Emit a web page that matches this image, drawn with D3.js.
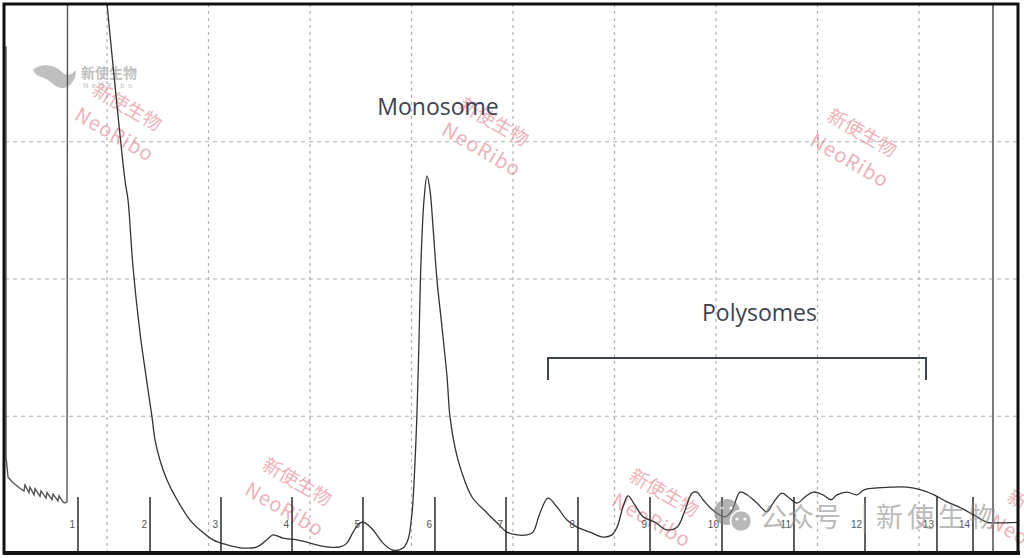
<!DOCTYPE html>
<html><head><meta charset="utf-8">
<script src="https://cdn.jsdelivr.net/npm/d3@7"></script>
<style>html,body{margin:0;padding:0;background:#fff;overflow:hidden}</style>
</head><body><svg id="c" width="1024" height="558"></svg>
<script>
// ---------------- data ----------------
const gridX = [10, 20, 30, 40, 50, 60, 70, 80, 90];
const gridY = [0.25, 0.5, 0.75];
const fractionEdges = [7.19, 14.29, 21.28, 28.28, 35.27, 42.36, 49.36, 56.45, 63.55, 70.64, 77.73, 84.73, 91.82, 95.37];
const fractionLabels = ["1","2","3","4","5","6","7","8","9","10","11","12","13","14"];
const fractionMarkTop = 0.102;
const runEndX = 97.34;
// sample loading segment (before gradient)
const traceLoadX = [0.10, 0.10, 0.30, 0.79, 1.48, 1.87, 1.97, 2.36, 2.46, 2.86, 2.96, 3.45, 3.55, 4.04, 4.14, 4.63, 4.73, 5.22, 5.32, 5.71, 5.91, 6.11, 6.16];
const traceLoadY = [0.923, 0.175, 0.138, 0.128, 0.118, 0.113, 0.124, 0.110, 0.120, 0.106, 0.117, 0.103, 0.113, 0.100, 0.110, 0.097, 0.107, 0.095, 0.104, 0.093, 0.091, 0.093, 1.04];
// gradient absorbance profile
const traceGradX = [9.95,10.05,11.82,12.12,12.61,13.30,13.99,14.48,14.78,15.27,
  15.96,16.95,18.23,19.21,20.49,21.87,23.45,24.83,25.81,26.40,
  27.39,28.77,30.05,31.72,33.00,33.69,34.29,34.98,35.47,36.26,
  37.24,38.23,39.21,39.70,40.10,40.39,40.59,40.79,40.99,41.28,
  41.58,41.87,42.17,42.56,43.05,43.55,43.84,44.33,45.02,46.01,
  47.49,48.47,49.46,50.44,51.43,52.02,52.71,53.50,54.38,55.37,
  56.35,57.64,58.92,59.80,60.30,60.89,61.38,62.07,62.86,64.04,
  65.22,66.21,67.00,67.68,68.18,68.77,69.75,70.94,71.63,72.41,
  73.10,74.09,75.07,75.67,76.55,77.14,78.03,78.82,79.61,80.59,
  81.38,81.97,82.96,83.94,84.63,85.62,87.29,88.87,90.25,91.53,
  92.81,94.19,95.47,96.75,97.34,99.90];
const traceGradY = [1.02,1.0,0.679,0.643,0.521,0.401,0.310,0.248,0.206,0.169,
  0.133,0.097,0.060,0.042,0.024,0.015,0.009,0.011,0.024,0.033,
  0.027,0.024,0.018,0.011,0.011,0.018,0.038,0.055,0.055,0.042,
  0.018,0.005,0.009,0.024,0.073,0.164,0.255,0.388,0.534,0.643,
  0.687,0.661,0.594,0.497,0.412,0.321,0.248,0.193,0.146,0.102,
  0.073,0.055,0.038,0.033,0.033,0.038,0.073,0.100,0.084,0.060,
  0.047,0.038,0.029,0.033,0.047,0.084,0.104,0.087,0.066,0.056,
  0.042,0.047,0.078,0.109,0.111,0.097,0.078,0.066,0.078,0.111,
  0.106,0.091,0.075,0.091,0.109,0.102,0.091,0.102,0.111,0.106,
  0.097,0.106,0.111,0.106,0.115,0.118,0.120,0.120,0.115,0.106,
  0.093,0.082,0.069,0.056,0.055,0.056];
const annotationText = ["Monosome", "Polysomes"];
const annotationX = [42.66, 74.33];
const annotationY = [0.798, 0.423];
const polysomeRange = [53.5, 90.74];
const bracketY = [0.355, 0.315];
const watermarkCN = "新使生物";
const watermarkEN = "NeoRibo";
const footerText = ["公众号", "|", "新使生物"];

// ---------------- layout ----------------
const W = 1024, H = 558;
const L = 5, R = 1020, T = 4, B = 553;
const svg = d3.select("#c");
svg.append("rect").attr("width", W).attr("height", H).attr("fill", "#fff");

const x = d3.scaleLinear().domain([0, 100]).range([L, R]);
const y = d3.scaleLinear().domain([0, 1]).range([B, T]);

svg.append("defs").append("clipPath").attr("id", "plot")
  .append("rect").attr("x", L - 1).attr("y", T).attr("width", R - L).attr("height", B - T);

// grid
const gx = svg.append("g").attr("transform", `translate(0,${B})`)
  .call(d3.axisBottom(x).tickValues(gridX).tickSize(-(B - T)).tickFormat(""));
gx.select(".domain").remove();
gx.selectAll("line").attr("stroke", "#b0b0b0").attr("stroke-width", 1.2).attr("stroke-dasharray", "3,4");
const gy = svg.append("g").attr("transform", `translate(${L},0)`)
  .call(d3.axisLeft(y).tickValues(gridY).tickSize(-(R - L)).tickFormat(""));
gy.select(".domain").remove();
gy.selectAll("line").attr("stroke", "#b0b0b0").attr("stroke-width", 1.2).attr("stroke-dasharray", "4,4");

// watermark layer (pink)
const wmPos = [[127,107],[494,122],[862,133],[297,482],[664,493],[1042,514]];
wmPos.forEach(p => {
  const g = svg.append("g").attr("transform", `translate(${p[0]},${p[1]}) rotate(30)`)
    .attr("fill", "#e27f8d").attr("opacity", 0.6)
    .style("font-family", "'Noto Sans CJK SC', 'Noto Sans', sans-serif");
  g.append("text").attr("text-anchor", "middle").attr("dy", "0.35em")
    .attr("font-size", 19).text(watermarkCN);
  g.append("text").attr("text-anchor", "middle").attr("x", 3).attr("y", 30).attr("dy", "0.35em")
    .attr("font-size", 20).attr("letter-spacing", 1).text(watermarkEN);
});

// top-left gray logo
const logo = svg.append("g").attr("fill", "#b5b5b5").attr("opacity", 0.85);
logo.append("path").attr("d", "M33,70 C40,63 54,64 62,72 C66,76 70,76 76,70 C76,78 72,86 64,88 C56,89 52,82 46,79 C41,76 36,77 33,70 Z");
logo.append("text").attr("x", 81).attr("y", 78).attr("font-size", 14).attr("font-weight", "bold")
  .style("font-family", "'Noto Sans CJK SC', sans-serif").text(watermarkCN);
logo.append("text").attr("x", 83).attr("y", 88).attr("font-size", 7).attr("letter-spacing", 3.5)
  .style("font-family", "'Noto Sans', sans-serif").text(watermarkEN);

// trace
const plot = svg.append("g").attr("clip-path", "url(#plot)");
const lineLin = d3.line().x(d => x(d[0])).y(d => y(d[1]));
const lineSmooth = d3.line().x(d => x(d[0])).y(d => y(d[1])).curve(d3.curveCatmullRom.alpha(0.5));
plot.append("path").datum(d3.zip(traceLoadX, traceLoadY))
  .attr("d", lineLin).attr("fill", "none").attr("stroke", "#555").attr("stroke-width", 1.4);
plot.append("path").datum(d3.zip(traceGradX, traceGradY))
  .attr("d", lineSmooth).attr("fill", "none").attr("stroke", "#333").attr("stroke-width", 1.3);

// run end marker
svg.append("line").attr("x1", x(runEndX)).attr("x2", x(runEndX)).attr("y1", y(1)).attr("y2", y(0))
  .attr("stroke", "#7a7a7a").attr("stroke-width", 2);

// fraction markers
const fr = svg.append("g");
fr.selectAll("line").data(fractionEdges).join("line")
  .attr("x1", d => x(d)).attr("x2", d => x(d)).attr("y1", y(fractionMarkTop)).attr("y2", y(0))
  .attr("stroke", "#2a2a2a").attr("stroke-width", 1.5);
fr.selectAll("text").data(fractionEdges).join("text")
  .attr("x", d => x(d) - 3).attr("y", y(0.046)).attr("text-anchor", "end")
  .attr("font-size", 10).attr("fill", "#555")
  .style("font-family", "'Liberation Sans', Arial, sans-serif")
  .text((d, i) => fractionLabels[i]);

// annotations
svg.selectAll("text.ann").data(annotationText).join("text").attr("class", "ann")
  .attr("x", (d, i) => x(annotationX[i])).attr("y", (d, i) => y(annotationY[i]))
  .attr("text-anchor", "middle").attr("font-size", 23).attr("fill", "#3d4350")
  .style("font-family", "'Open Sans', sans-serif").text(d => d);
const br = d3.path();
br.moveTo(x(polysomeRange[0]), y(bracketY[1]));
br.lineTo(x(polysomeRange[0]), y(bracketY[0]));
br.lineTo(x(polysomeRange[1]), y(bracketY[0]));
br.lineTo(x(polysomeRange[1]), y(bracketY[1]));
svg.append("path").attr("d", br.toString()).attr("fill", "none").attr("stroke", "#3d4350").attr("stroke-width", 2);

// bottom-right footer watermark
const ft = svg.append("g").attr("opacity", 0.6);
ft.append("circle").attr("cx", 727).attr("cy", 512).attr("r", 13).attr("fill", "#808080");
ft.append("circle").attr("cx", 741).attr("cy", 521).attr("r", 10.5).attr("fill", "#8a8a8a").attr("stroke", "#fff").attr("stroke-width", 1.5);
[[722,508],[731,508],[737,519],[745,519]].forEach(p =>
  ft.append("circle").attr("cx", p[0]).attr("cy", p[1]).attr("r", 1.6).attr("fill", "#fff"));
ft.append("text").attr("x", 760).attr("y", 527).attr("font-size", 27).attr("fill", "#8f8f8f")
  .style("font-family", "'Noto Sans CJK SC', sans-serif").text(footerText[0]);
ft.append("text").attr("x", 861).attr("y", 526).attr("font-size", 27).attr("fill", "#8f8f8f")
  .style("font-family", "'Noto Sans CJK SC', sans-serif").text(footerText[1]);
ft.append("text").attr("x", 876).attr("y", 527).attr("font-size", 27).attr("fill", "#8f8f8f").attr("letter-spacing", 4)
  .style("font-family", "'Noto Sans CJK SC', sans-serif").text(footerText[2]);

// frame
svg.append("rect").attr("x", L - 1).attr("y", T).attr("width", R - L - 1).attr("height", B - T)
  .attr("fill", "none").attr("stroke", "#111").attr("stroke-width", 3);
svg.append("line").attr("x1", L - 2).attr("x2", R).attr("y1", B).attr("y2", B).attr("stroke", "#111").attr("stroke-width", 4);
</script></body></html>
